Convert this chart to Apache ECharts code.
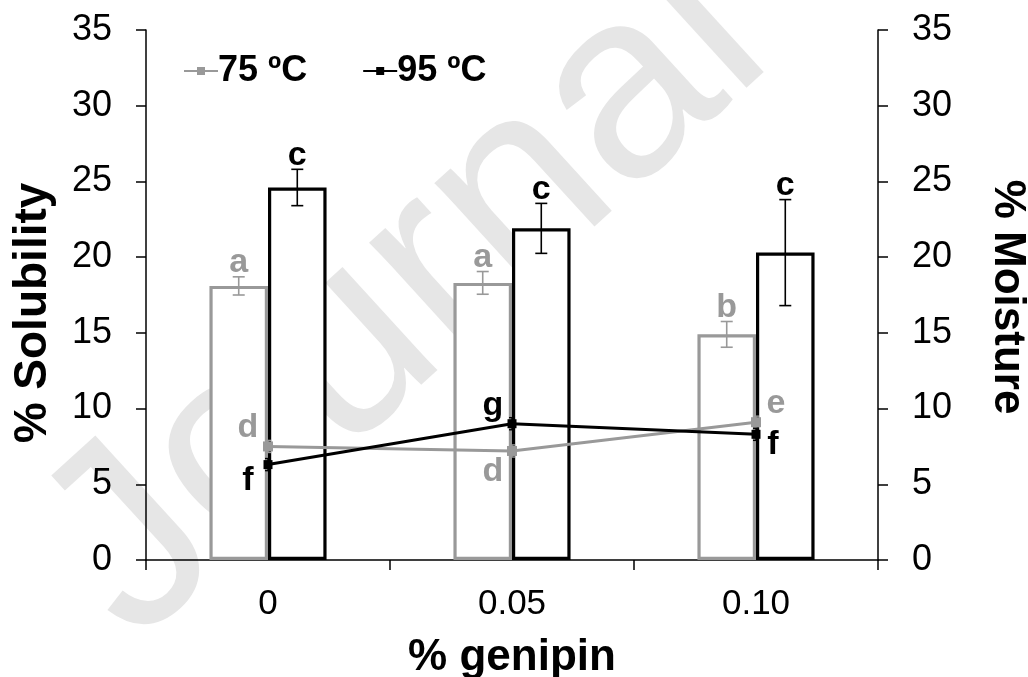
<!DOCTYPE html>
<html>
<head>
<meta charset="utf-8">
<script src="https://cdn.jsdelivr.net/npm/echarts@6/dist/echarts.min.js"></script>
<style>
  html, body { margin: 0; padding: 0; background: #fff; }
  #main { width: 1028px; height: 677px; }
</style>
</head>
<body>
<div id="main"></div>
<script>
var chartDom = document.getElementById('main');
var myChart = echarts.init(chartDom);

// data
const genipin = ['0', '0.05', '0.10'];
const sol75 = [18.1, 18.3, 14.9];
const sol75Err = [0.6, 0.75, 0.85];
const sol95 = [24.6, 21.9, 20.3];
const sol95Err = [1.2, 1.65, 3.5];
const solLetters75 = ['a', 'a', 'b'];
const solLetters95 = ['c', 'c', 'c'];
const moist75 = [7.5, 7.2, 9.1];
const moist95 = [6.3, 9.0, 8.3];
const moistErr = [0.4, 0.4, 0.4];
const moistLetters75 = ['d', 'd', 'e'];
const moistLetters95 = ['f', 'g', 'f'];
const yTicks = [0, 5, 10, 15, 20, 25, 30, 35];

const GREY = '#999999';
const BLACK = '#000000';
const FONT = 'Liberation Sans, Arial, sans-serif';

// label offsets for moisture points (dx, dy)
const off75 = [[-20, -19], [-19, 21], [20, -19]];
const off95 = [[-20, 16], [-19, -18], [17, 10]];

function lineData(vals, letters, offs, color) {
    return vals.map(function (v, i) {
        return {
            value: v,
            label: {
                show: true,
                formatter: letters[i],
                position: 'inside',
                offset: offs[i],
                color: color,
                fontSize: 34,
                fontWeight: 'bold',
                fontFamily: FONT
            }
        };
    });
}

// error bars + letters for the bars; shift = fraction of band width
function barErrorSeries(vals, errs, letters, shift, color) {
    return {
        type: 'custom',
        z: 5,
        data: vals.map(function (v, i) { return [i, v, errs[i]]; }),
        renderItem: function (params, api) {
            var band = api.size([1, 0])[0];
            var c = api.coord([api.value(0), api.value(1)]);
            var x = c[0] + band * shift;
            var top = api.coord([api.value(0), api.value(1) + api.value(2)])[1];
            var bot = api.coord([api.value(0), api.value(1) - api.value(2)])[1];
            var w = 6;
            var st = { stroke: color, lineWidth: 1.6 };
            return {
                type: 'group',
                children: [
                    { type: 'line', shape: { x1: x, y1: top, x2: x, y2: bot }, style: st },
                    { type: 'line', shape: { x1: x - w, y1: top, x2: x + w, y2: top }, style: st },
                    { type: 'line', shape: { x1: x - w, y1: bot, x2: x + w, y2: bot }, style: st },
                    {
                        type: 'text',
                        x: x, y: top + 3,
                        style: {
                            text: letters[params.dataIndex],
                            fill: color,
                            font: 'bold 34px ' + FONT,
                            align: 'center',
                            verticalAlign: 'bottom'
                        }
                    }
                ]
            };
        }
    };
}

function lineErrorSeries(vals, errs, color) {
    return {
        type: 'custom',
        yAxisIndex: 1,
        z: 3,
        data: vals.map(function (v, i) { return [i, v, errs[i]]; }),
        renderItem: function (params, api) {
            var c = api.coord([api.value(0), api.value(1)]);
            var top = api.coord([api.value(0), api.value(1) + api.value(2)])[1];
            var bot = api.coord([api.value(0), api.value(1) - api.value(2)])[1];
            var st = { stroke: color, lineWidth: 1.4 };
            return {
                type: 'group',
                children: [
                    { type: 'line', shape: { x1: c[0], y1: top, x2: c[0], y2: bot }, style: st },
                    { type: 'line', shape: { x1: c[0] - 3, y1: top, x2: c[0] + 3, y2: top }, style: st },
                    { type: 'line', shape: { x1: c[0] - 3, y1: bot, x2: c[0] + 3, y2: bot }, style: st }
                ]
            };
        }
    };
}

const yLabel = { fontSize: 36, color: '#000', fontFamily: FONT };
const axisLine = { show: true, lineStyle: { color: '#000', width: 1.5 } };
const tick = { show: true, length: 10, lineStyle: { color: '#000', width: 1.5 } };

let option = {
    backgroundColor: '#fff',
    animation: false,
    graphic: [{
        type: 'text',
        z: -10,
        x: 175, y: 690,
        rotation: 0.74,
        style: {
            text: 'Journal Pre-proof',
            fill: '#e6e6e6',
            font: '265px ' + FONT,
            verticalAlign: 'bottom'
        }
    }, {
        type: 'text',
        x: 33, y: 313,
        rotation: Math.PI / 2,
        style: {
            text: '% Solubility',
            fill: '#000',
            font: 'bold 46px ' + FONT,
            align: 'center',
            verticalAlign: 'middle'
        }
    }, {
        type: 'text',
        x: 1007, y: 297,
        rotation: -Math.PI / 2,
        style: {
            text: '% Moisture',
            fill: '#000',
            font: 'bold 44px ' + FONT,
            align: 'center',
            verticalAlign: 'middle'
        }
    }],
    grid: { left: 146, right: 150, top: 30, bottom: 117, outerBoundsMode: 'none', containLabel: false },
    legend: {
        left: 178, top: 48,
        itemWidth: 34, itemHeight: 10, itemGap: 55,
        data: ['75 ºC', '95 ºC'],
        textStyle: { fontSize: 36, fontWeight: 'bold', color: '#000', fontFamily: FONT, padding: [0, 0, 0, -5] }
    },
    xAxis: {
        type: 'category',
        data: genipin,
        boundaryGap: true,
        name: '% genipin',
        nameLocation: 'middle',
        nameGap: 76,
        nameTextStyle: { fontSize: 44, fontWeight: 'bold', color: '#000', fontFamily: FONT },
        axisLine: axisLine,
        axisTick: tick,
        axisLabel: { fontSize: 35, color: '#000', margin: 27, fontFamily: FONT },
        splitLine: { show: false }
    },
    yAxis: [{
        type: 'value',
        min: yTicks[0], max: yTicks[yTicks.length - 1], interval: 5,
        axisLine: axisLine,
        axisTick: tick,
        axisLabel: Object.assign({ margin: 34 }, yLabel),
        splitLine: { show: false }
    }, {
        type: 'value',
        min: yTicks[0], max: yTicks[yTicks.length - 1], interval: 5,
        axisLine: axisLine,
        axisTick: tick,
        axisLabel: Object.assign({ margin: 34 }, yLabel),
        splitLine: { show: false }
    }],
    series: [
        {
            name: '75 ºC bar',
            type: 'bar',
            data: sol75,
            barGap: '0%',
            barCategoryGap: '52%',
            itemStyle: { color: '#fff', borderColor: GREY, borderWidth: 3.2 },
            z: 2
        },
        {
            name: '95 ºC bar',
            type: 'bar',
            data: sol95,
            barGap: '0%',
            barCategoryGap: '52%',
            itemStyle: { color: '#fff', borderColor: BLACK, borderWidth: 3.2 },
            z: 2
        },
        barErrorSeries(sol75, sol75Err, solLetters75, -0.12, GREY),
        barErrorSeries(sol95, sol95Err, solLetters95, 0.12, BLACK),
        lineErrorSeries(moist75, moistErr, GREY),
        lineErrorSeries(moist95, moistErr, BLACK),
        {
            name: '75 ºC',
            type: 'line',
            yAxisIndex: 1,
            data: lineData(moist75, moistLetters75, off75, GREY),
            symbol: 'rect',
            symbolSize: 10,
            lineStyle: { color: GREY, width: 3 },
            itemStyle: { color: GREY },
            z: 4
        },
        {
            name: '95 ºC',
            type: 'line',
            yAxisIndex: 1,
            data: lineData(moist95, moistLetters95, off95, BLACK),
            symbol: 'rect',
            symbolSize: 9,
            lineStyle: { color: BLACK, width: 3 },
            itemStyle: { color: BLACK },
            z: 4
        }
    ]
};

option && myChart.setOption(option);
</script>
</body>
</html>
